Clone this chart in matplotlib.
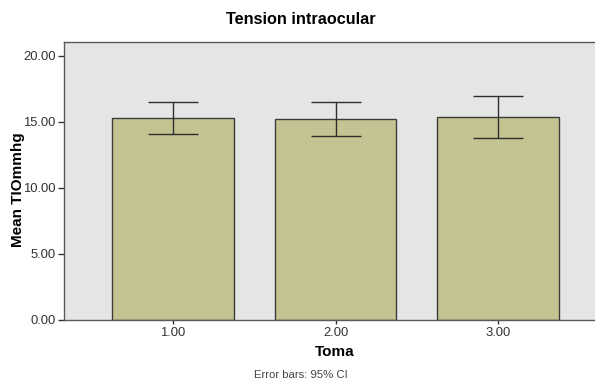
import matplotlib
matplotlib.use("Agg")
import matplotlib.pyplot as plt
import numpy as np

# Values
tomas = [1.00, 2.00, 3.00]
tick_labels = ["1.00", "2.00", "3.00"]
means = [15.33, 15.23, 15.40]
ci_low = [14.11, 13.91, 13.81]
ci_high = [16.52, 16.54, 16.97]

plt.rcParams['font.family'] = ['Liberation Sans', 'DejaVu Sans']

fig = plt.figure(figsize=(5.95, 3.8), dpi=100)
# axes run slightly past the right edge, as in the (cropped) original
ax = fig.add_axes([64 / 595, 60 / 380, 543 / 595, 278 / 380])
ax.set_facecolor("#e6e5e5")

x = np.arange(len(tomas))
yerr = [np.array(means) - np.array(ci_low), np.array(ci_high) - np.array(means)]
ax.bar(x, means, width=0.75, color="#c4c492", edgecolor="#3c3c3c", linewidth=1.0, zorder=2)
ax.errorbar(x, means, yerr=yerr, fmt="none", ecolor="#2e2e2e", elinewidth=1.0,
            capsize=18, capthick=1.0, zorder=3)

ax.set_xlim(-0.671, 2.671)
ax.set_ylim(0, 21.06)
ax.set_yticks([0, 5, 10, 15, 20])
ax.set_yticklabels(["0.00", "5.00", "10.00", "15.00", "20.00"])
ax.set_xticks(x)
ax.set_xticklabels(tick_labels)
ax.tick_params(axis="both", labelsize=9.4, colors="#333333", length=4, width=1, pad=2)
ax.tick_params(axis="x", length=3)

for side in ax.spines.values():
    side.set_color("#5a5a5a")
    side.set_linewidth(1.0)

fig.text(301 / 595, 1 - 19 / 380, "Tension intraocular", ha="center", va="center",
         fontsize=11.7, fontweight="bold")
fig.text(18 / 595, 1 - 190 / 380, "Mean TIOmmhg", ha="center", va="center",
         rotation=90, fontsize=11, fontweight="bold")
fig.text(335 / 595, 1 - 352 / 380, "Toma", ha="center", va="center",
         fontsize=11, fontweight="bold")
fig.text(301 / 595, 1 - 375 / 380, "Error bars: 95% CI", ha="center", va="center",
         fontsize=8.2, color="#444444")

fig.savefig("out.png", dpi=100)
